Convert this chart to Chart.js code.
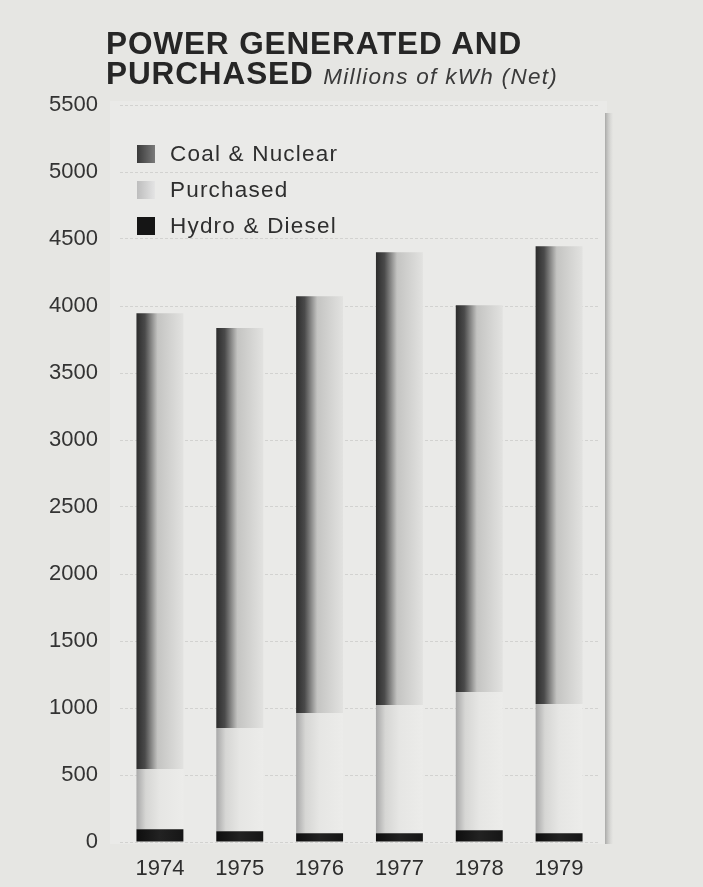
<!DOCTYPE html>
<html lang="en">
<head>
<meta charset="UTF-8">
<title>Power Generated and Purchased</title>
<script src="https://cdn.jsdelivr.net/npm/chart.js"></script>
<style>
    body {
        margin: 0;
        background: #e6e6e3;
        font-family: 'Liberation Sans', Arial, sans-serif;
        color: #2a2a2a;
    }
    .wrap {
        position: relative;
        width: 703px;
        height: 887px;
        overflow: hidden;
    }
    canvas { position: absolute; left: 0; top: 0; }
    .title {
        position: absolute;
        left: 106px;
        top: 28px;
        font-weight: bold;
        font-size: 31.5px;
        line-height: 30px;
        letter-spacing: 0.9px;
        color: #262626;
    }
    .title i {
        font-weight: normal;
        font-size: 22.5px;
        letter-spacing: 1.3px;
        color: #3a3a3a;
    }
    .legend {
        position: absolute;
        left: 137px;
        top: 140px;
        font-size: 22.5px;
        letter-spacing: 1.2px;
        color: #2e2e2e;
    }
    .legend div { height: 36px; line-height: 28px; }
    .legend span.sw {
        display: inline-block;
        width: 18px;
        height: 18px;
        margin-right: 15px;
        vertical-align: -2px;
    }
</style>
</head>
<body>
<div class="wrap">
    <canvas id="chart" width="703" height="887"></canvas>
    <div class="title">POWER GENERATED AND<br>PURCHASED <i>Millions of kWh (Net)</i></div>
    <div class="legend">
        <div><span class="sw" style="background:linear-gradient(90deg,#3a3a3a,#7a7a7a)"></span>Coal &amp; Nuclear</div>
        <div><span class="sw" style="background:linear-gradient(90deg,#bdbdbd,#e4e4e4)"></span>Purchased</div>
        <div><span class="sw" style="background:#151515"></span>Hydro &amp; Diesel</div>
    </div>
</div>
<script>
const years = ['1974', '1975', '1976', '1977', '1978', '1979'];
const hydroDiesel = [95, 80, 65, 65, 88, 65];
const purchased = [450, 770, 898, 958, 1032, 965];
const coalNuclear = [3400, 2985, 3110, 3378, 2885, 3415];
const yTicks = [0, 500, 1000, 1500, 2000, 2500, 3000, 3500, 4000, 4500, 5000, 5500];

const BAR_PCT = 0.6, CAT_PCT = 0.98;

// horizontal shading across each bar, dark on the left edge like the print
function shade(stops) {
    return function(c) {
        const chart = c.chart;
        const xs = chart.scales.x;
        if (!chart.chartArea || !xs) return stops[stops.length - 1][1];
        const cx = xs.getPixelForValue(c.dataIndex);
        const w = xs.width / years.length * CAT_PCT * BAR_PCT;
        const g = chart.ctx.createLinearGradient(cx - w / 2, 0, cx + w / 2, 0);
        stops.forEach(s => g.addColorStop(s[0], s[1]));
        return g;
    };
}

const panel = {
    id: 'panel',
    beforeDraw(chart) {
        const ctx = chart.ctx;
        const a = chart.chartArea;
        ctx.save();
        ctx.fillStyle = '#eaeae8';
        ctx.fillRect(a.left - 10, a.top - 4, a.right - a.left + 18, a.bottom - a.top + 6);
        const g = ctx.createLinearGradient(a.right + 6, 0, a.right + 14, 0);
        g.addColorStop(0, '#a9a9a7');
        g.addColorStop(1, 'rgba(200,200,198,0)');
        ctx.fillStyle = g;
        ctx.fillRect(a.right + 6, a.top + 8, 8, a.bottom - a.top - 6);
        ctx.restore();
    }
};

new Chart(document.getElementById('chart'), {
    type: 'bar',
    data: {
        labels: years,
        datasets: [
            {
                label: 'Hydro & Diesel',
                data: hydroDiesel,
                backgroundColor: shade([[0, '#0e0e0e'], [0.5, '#222'], [1, '#161616']])
            },
            {
                label: 'Purchased',
                data: purchased,
                backgroundColor: shade([[0, '#a8a8a8'], [0.2, '#d6d6d4'], [0.5, '#e6e6e4'], [1, '#ececea']])
            },
            {
                label: 'Coal & Nuclear',
                data: coalNuclear,
                backgroundColor: shade([[0, '#2c2c2c'], [0.18, '#4a4a4a'], [0.45, '#c4c4c2'], [1, '#e2e2e0']])
            }
        ]
    },
    options: {
        responsive: false,
        animation: false,
        layout: { padding: { top: 105, left: 42, right: 104, bottom: 4 } },
        datasets: { bar: { barPercentage: BAR_PCT, categoryPercentage: CAT_PCT } },
        plugins: {
            legend: { display: false },
            tooltip: { enabled: false }
        },
        scales: {
            x: {
                stacked: true,
                grid: { display: false },
                border: { display: false },
                ticks: {
                    color: '#2e2e2e',
                    font: { family: "'Liberation Sans', Arial, sans-serif", size: 22 },
                    padding: 6
                },
                afterFit: s => { s.height = 41; }
            },
            y: {
                stacked: true,
                min: 0,
                max: 5500,
                afterBuildTicks: s => { s.ticks = yTicks.map(v => ({ value: v })); },
                afterFit: s => { s.width = 78; },
                border: { display: false, dash: [3, 2] },
                grid: {
                    color: 'rgba(90,90,90,0.16)',
                    tickLength: 0,
                    drawTicks: false
                },
                ticks: {
                    color: '#333',
                    font: { family: "'Liberation Sans', Arial, sans-serif", size: 22 },
                    padding: 22,
                    callback: v => String(v)
                }
            }
        }
    },
    plugins: [panel]
});
</script>
</body>
</html>
